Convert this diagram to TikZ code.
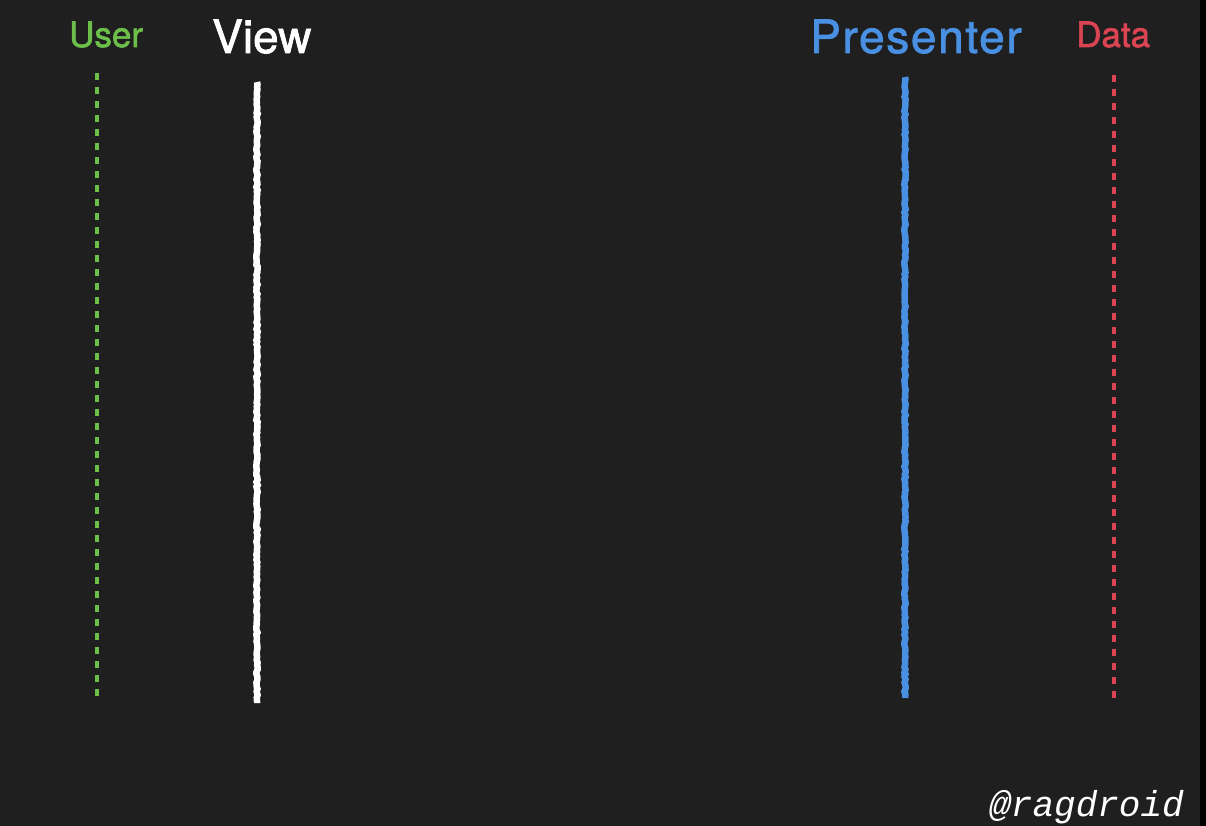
\documentclass[tikz,border=0pt]{standalone}
\usepackage{fontspec}
\setmainfont{TeX Gyre Heros}[FakeBold=2]
\newfontfamily\labfont{TeX Gyre Heros}[FakeBold=1.6]
\newfontfamily\labwidefont{TeX Gyre Heros}[FakeBold=1.6, LetterSpace=3.6]
\newfontfamily\wmfont{Liberation Mono}
\usetikzlibrary{decorations.pathmorphing}
\definecolor{bgdark}{HTML}{1F1F1F}
\definecolor{usergreen}{HTML}{6CC04A}
\definecolor{presblue}{HTML}{4A90E2}
\definecolor{datared}{HTML}{DA4453}
\tikzset{
  lbl/.style={anchor=base west, inner sep=0pt, font=#1},
  dashlife/.style={draw=#1, line width=3.5pt, dash pattern=on 7pt off 7pt},
  chalk/.style={draw=#1, line width=6.5pt, decorate, decoration={random steps, segment length=2.5pt, amplitude=0.7pt}},
}
\begin{document}
\begin{tikzpicture}[x=1pt,y=-1pt]
\fill[bgdark] (0,0) rectangle (1200,826);
\fill[black] (1200,0) rectangle (1206,826);
\useasboundingbox (0,0) rectangle (1206,826);
% labels
\node[lbl={\labfont\fontsize{35}{40}\selectfont}, text=usergreen] (user) at (69,47) {User};
\node[lbl={\labfont\fontsize{46}{52}\selectfont}, text=white] (view) at (212,53) {View};
\node[lbl={\labwidefont\fontsize{46}{52}\selectfont}, text=presblue] (pres) at (810,53) {Presenter};
\node[lbl={\labfont\fontsize{35}{40}\selectfont}, text=datared] (data) at (1076,47) {Data};
% lifeline ends
\coordinate (ut) at (97,73);  \coordinate (ub) at (97,698);
\coordinate (vt) at (257,82);   \coordinate (vb) at (257,703);
\coordinate (pt) at (905,77);   \coordinate (pb) at (905,698);
\coordinate (dt) at (1114,75);  \coordinate (db) at (1114,698);
\draw[dashlife=usergreen] (ut) -- (ub);
\draw[chalk=white] (vt) -- (vb);
\draw[chalk=presblue] (pt) -- (pb);
\draw[dashlife=datared] (dt) -- (db);
% watermark
\node[anchor=base east, inner sep=0pt, text=white, font={\wmfont\itshape\fontsize{36}{40}\selectfont}] (wm) at (1184,816) {@ragdroid};
\end{tikzpicture}
\end{document}
